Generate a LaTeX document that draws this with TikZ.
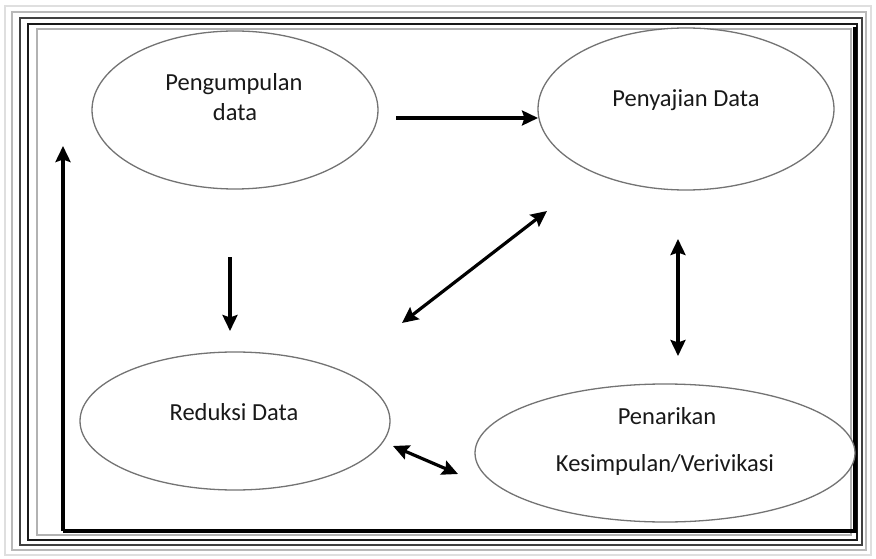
\documentclass[tikz,border=0pt]{standalone}
\usepackage{fontspec}
\setmainfont{Carlito}
\usetikzlibrary{arrows.meta}
\begin{document}
\begin{tikzpicture}[x=1pt,y=-1pt,
  bubble/.style={draw=black!55, line width=1.3pt, fill=white},
  lbl/.style={font=\fontsize{24.5}{29}\selectfont, text=black!90, align=center},
  arr/.style={line width=3.2pt, -{Stealth[length=16pt,width=15pt,inset=2.5pt]}},
  darr/.style={line width=3.2pt, {Stealth[length=16pt,width=15pt,inset=2.5pt]}-{Stealth[length=16pt,width=15pt,inset=2.5pt]}},
  frameline/.style={line width=1.3pt}
]
\useasboundingbox (0,0) rectangle (876,559);
% frame
\draw[frameline, gray!25] (5,6) rectangle (871,555);
\draw[frameline, gray!55] (12,12) rectangle (866,550);
\draw[frameline, black!75, line width=1.6pt] (20,18) rectangle (862,545);
\draw[frameline, black!90, line width=1.8pt] (28,24) rectangle (857,540);
\draw[frameline, gray!60] (37,29) rectangle (851,535);
% feedback line
\coordinate (fbBR) at (855,531);
\coordinate (fbBL) at (63,531);
\coordinate (fbTop) at (63,146);
\coordinate (fbTR) at (855,27);
\draw[line width=3.4pt] (fbTR) -- (fbBR) -- (fbBL);
\draw[arr, line width=3.6pt] (fbBL) -- (fbTop);
% ellipses
\draw[bubble] (235,110) ellipse [x radius=143, y radius=79];
\draw[bubble] (686,109) ellipse [x radius=148, y radius=81];
\draw[bubble] (235,421) ellipse [x radius=155, y radius=69];
\draw[bubble] (665,453) ellipse [x radius=190, y radius=69];
% labels
\node[lbl] (peng1) at (234,84) {Pengumpulan};
\node[lbl] (peng2) at (235,112) {data};
\node[lbl] (peny) at (686,100) {Penyajian Data};
\node[lbl] (red) at (234,412) {Reduksi Data};
\node[lbl] (pen1) at (667,416) {Penarikan};
\node[lbl] (pen2) at (665,465) {Kesimpulan/Verivikasi};
% arrows
\coordinate (a1s) at (396,118); \coordinate (a1e) at (538,118);
\draw[arr] (a1s) -- (a1e);
\coordinate (a2s) at (230,257); \coordinate (a2e) at (230,331);
\draw[arr] (a2s) -- (a2e);
\coordinate (a3s) at (402,323); \coordinate (a3e) at (547,211);
\draw[darr] (a3s) -- (a3e);
\coordinate (a4s) at (678,239); \coordinate (a4e) at (678,356);
\draw[darr] (a4s) -- (a4e);
\coordinate (a5s) at (393,446); \coordinate (a5e) at (458,474);
\draw[darr] (a5s) -- (a5e);
\end{tikzpicture}
\end{document}
